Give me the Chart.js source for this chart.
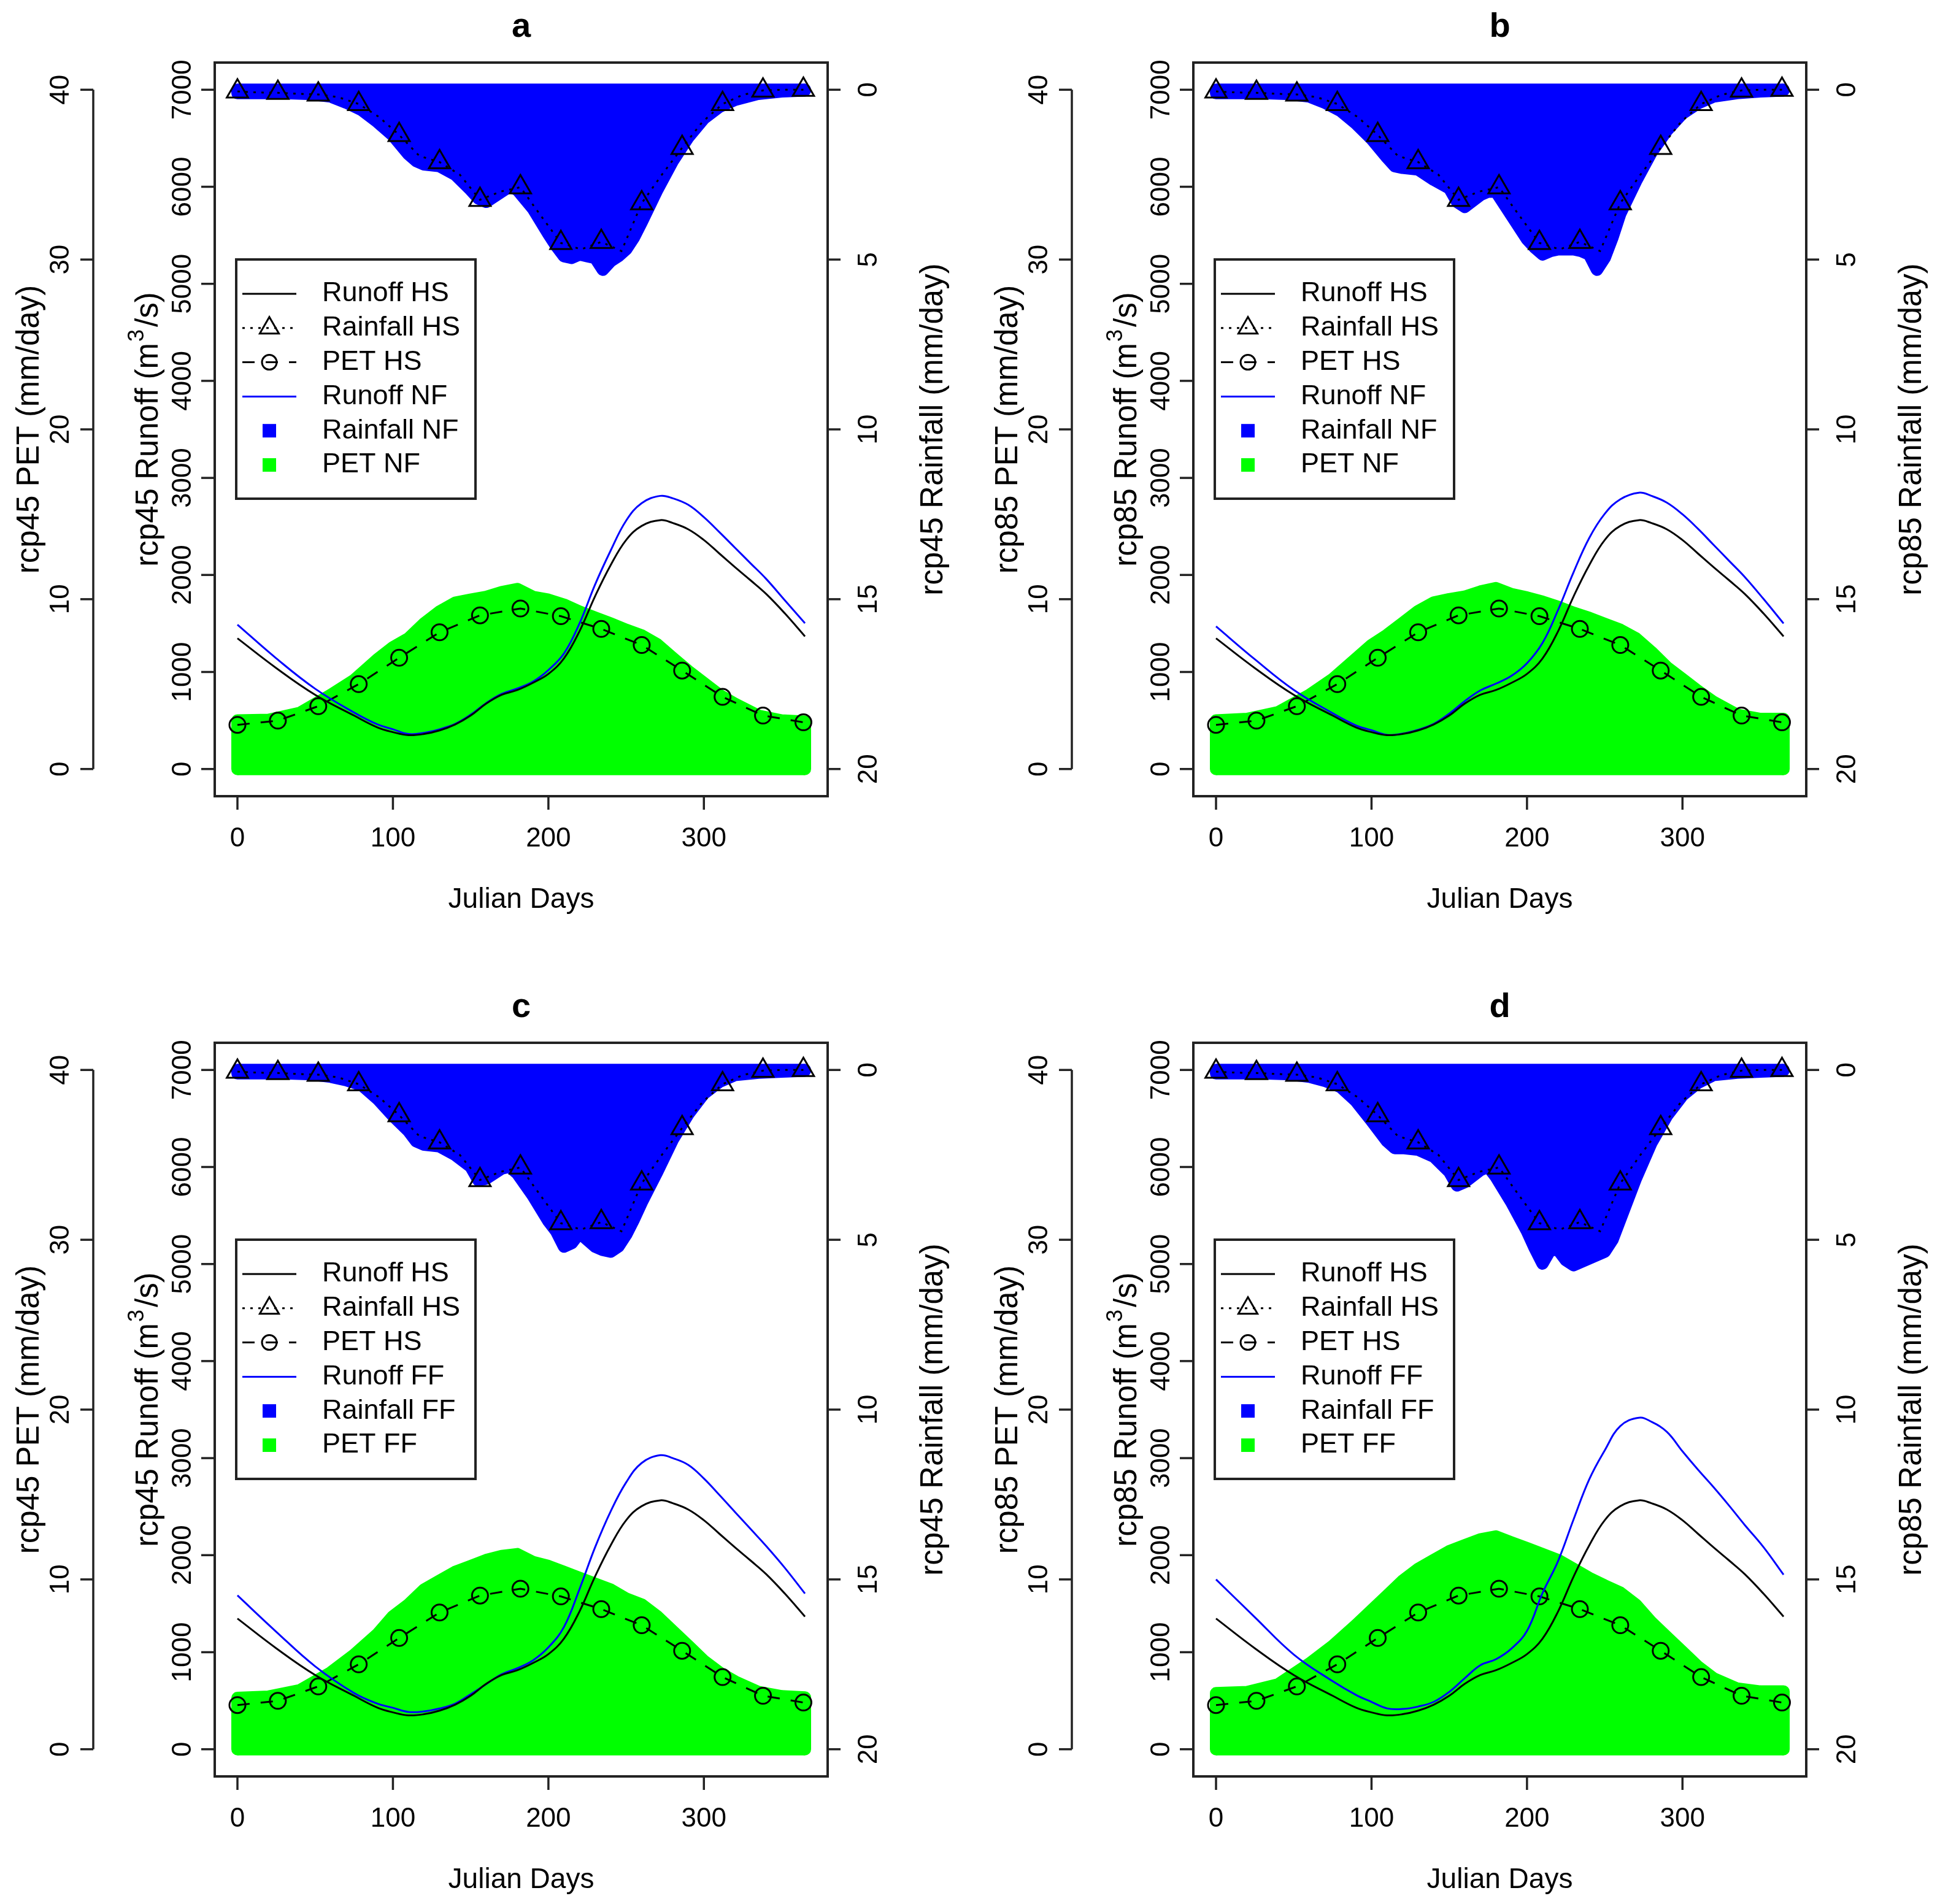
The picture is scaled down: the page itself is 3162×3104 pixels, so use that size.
<!DOCTYPE html>
<html>
<head>
<meta charset="utf-8">
<script src="https://cdn.jsdelivr.net/npm/chart.js@4"></script>
<style>
  html, body { margin:0; padding:0; background:#fff; overflow:hidden; }
  canvas.panel { position:absolute; }
</style>
</head>
<body>
<canvas id="pa" class="panel" width="1566" height="1506" style="left:0px;top:0px"></canvas>
<canvas id="pb" class="panel" width="1566" height="1506" style="left:1595px;top:0px"></canvas>
<canvas id="pc" class="panel" width="1566" height="1506" style="left:0px;top:1598px"></canvas>
<canvas id="pd" class="panel" width="1566" height="1506" style="left:1595px;top:1598px"></canvas>
<script>
// -------- data
const tick_days = [0, 100, 200, 300];
const tick_runoff = [0, 1000, 2000, 3000, 4000, 5000, 6000, 7000];
const tick_pet = [0, 10, 20, 30, 40];
const tick_rain = [0, 5, 10, 15, 20];

// runoff (m3/s)
const runoff_days = [0,25,50,75,90,100,110,120,130,140,150,160,170,180,190,200,210,220,230,240,250,260,272,280,290,300,310,320,330,340,352,365];
const runoff_hs   = [1347,1040,765,551,429,380,349,361,398,459,551,674,765,814,888,980,1140,1420,1780,2100,2360,2505,2565,2535,2470,2360,2220,2080,1945,1805,1605,1367];
const runoff_nf45 = [1488,1140,827,582,460,410,361,373,410,465,560,680,775,830,900,1020,1190,1500,1900,2250,2560,2740,2815,2790,2722,2595,2440,2280,2120,1960,1740,1502];
const runoff_nf85 = [1470,1130,815,575,450,400,352,365,405,465,570,700,810,880,960,1090,1300,1640,2030,2380,2630,2780,2848,2815,2745,2625,2475,2310,2145,1980,1755,1500];
const runoff_ff45 = [1585,1210,854,579,470,427,384,390,420,470,567,671,774,835,915,1050,1260,1650,2080,2450,2750,2950,3030,3000,2930,2790,2620,2445,2270,2095,1870,1604];
const runoff_ff85 = [1750,1360,976,701,560,488,421,415,440,488,591,732,866,927,1037,1220,1610,1940,2370,2780,3080,3330,3416,3375,3270,3070,2880,2700,2510,2312,2085,1799];

// historical rainfall (mm/day), triangles every 26 days
const rain_hs_days = [0,13,26,39,52,65,78,91,104,117,130,143,156,169,182,195,208,221,234,247,260,273,286,299,312,325,338,351,364];
const rain_hs      = [0.05,0.08,0.09,0.12,0.14,0.22,0.42,0.8,1.33,1.95,2.13,2.5,3.24,3.0,2.87,3.7,4.51,4.7,4.48,4.75,3.34,2.5,1.71,0.95,0.42,0.15,0.02,0.0,0.0];

// historical PET (mm/day), circles
const pet_hs_days = [0,26,52,78,104,130,156,182,208,234,260,286,312,338,364];
const pet_hs      = [2.6,2.85,3.7,5.0,6.55,8.05,9.05,9.45,9.0,8.25,7.3,5.8,4.25,3.15,2.75];

// future rainfall (filled blue)
const rain_fill_days = [0,15,30,45,60,70,80,90,100,110,115,120,130,140,150,155,160,170,175,180,190,200,205,210,215,220,225,230,235,240,245,250,255,260,270,280,290,300,310,320,335,350,365];
const rain_nf45 = [0.1,0.1,0.1,0.12,0.2,0.38,0.6,0.95,1.35,1.9,2.1,2.2,2.25,2.5,2.95,3.2,3.3,3.0,2.85,2.95,3.5,4.25,4.6,4.9,4.95,4.85,4.9,4.95,5.3,5.05,4.9,4.7,4.35,3.9,2.95,2.1,1.4,0.85,0.5,0.3,0.12,0.05,0.02];
const rain_nf85 = [0.1,0.1,0.1,0.12,0.2,0.38,0.62,1.0,1.45,2.0,2.25,2.3,2.35,2.65,2.9,3.3,3.45,3.1,3.0,3.0,3.7,4.4,4.65,4.85,4.75,4.7,4.7,4.7,4.75,4.85,5.3,4.95,4.35,3.65,2.7,1.85,1.2,0.7,0.4,0.2,0.1,0.05,0.02];
const rain_ff45 = [0.1,0.1,0.1,0.12,0.2,0.3,0.45,0.85,1.35,1.8,2.1,2.2,2.25,2.5,2.85,3.25,3.2,2.9,2.85,3.05,3.7,4.45,4.75,5.2,5.1,4.8,5.0,5.2,5.3,5.35,5.2,4.85,4.4,3.9,3.0,2.05,1.3,0.7,0.35,0.15,0.08,0.05,0.02];
const rain_ff85 = [0.1,0.1,0.1,0.12,0.2,0.32,0.5,0.92,1.5,2.1,2.3,2.3,2.35,2.55,3.0,3.4,3.3,2.95,2.85,3.15,3.9,4.75,5.25,5.7,5.3,5.3,5.6,5.75,5.65,5.55,5.45,5.35,5.0,4.4,3.2,2.15,1.35,0.75,0.38,0.15,0.08,0.05,0.02];

// future PET (filled green)
const pet_fill_days = [0,20,40,60,75,90,100,110,120,130,140,150,160,170,180,190,200,210,220,230,240,250,260,270,280,290,300,310,320,335,350,365];
const pet_nf45 = [2.86,2.9,3.3,4.36,5.24,6.46,7.17,7.69,8.57,9.27,9.79,9.97,10.14,10.42,10.6,10.14,9.97,9.68,9.27,8.92,8.57,8.2,7.87,7.34,6.54,5.77,5.07,4.36,3.84,3.14,2.86,2.79];
const pet_nf85 = [2.86,2.95,3.35,4.36,5.3,6.5,7.3,7.9,8.6,9.3,9.8,10.0,10.15,10.45,10.65,10.3,10.1,9.85,9.55,9.2,8.9,8.55,8.2,7.7,6.9,6.0,5.3,4.6,3.95,3.2,2.95,2.95];
const pet_ff45 = [3.02,3.1,3.47,4.52,5.56,6.78,7.83,8.52,9.4,9.92,10.44,10.79,11.14,11.38,11.49,11.03,10.79,10.44,10.09,9.75,9.4,8.87,8.52,7.83,6.96,6.09,5.21,4.52,3.99,3.37,3.12,3.05];
const pet_ff85 = [3.3,3.37,3.82,5.04,6.09,7.31,8.18,9.05,9.92,10.62,11.14,11.66,12.01,12.36,12.53,12.18,11.84,11.49,11.14,10.62,10.09,9.64,9.22,8.52,7.48,6.61,5.74,4.87,4.17,3.58,3.4,3.4];

const panels = [
  { id:'pa', title:'a', rcp:'rcp45', period:'NF', runoff:runoff_nf45, rain:rain_nf45, pet:pet_nf45 },
  { id:'pb', title:'b', rcp:'rcp85', period:'NF', runoff:runoff_nf85, rain:rain_nf85, pet:pet_nf85 },
  { id:'pc', title:'c', rcp:'rcp45', period:'FF', runoff:runoff_ff45, rain:rain_ff45, pet:pet_ff45 },
  { id:'pd', title:'d', rcp:'rcp85', period:'FF', runoff:runoff_ff85, rain:rain_ff85, pet:pet_ff85 }
];

// -------- helpers
const FONT = '"Liberation Sans", Arial, Helvetica, sans-serif';
const INK = '#222';

function pts(days, vals){
  return days.map((d, i) => ({x:d, y:vals[i]}));
}
// polygon for the filled series: drop to the base at both ends
function closed(days, vals){
  const p = pts(days, vals);
  p.unshift({x:days[0], y:0});
  p.push({x:days[days.length-1], y:0});
  return p;
}
function seg(ctx, x0, y0, x1, y1){
  ctx.beginPath(); ctx.moveTo(x0, y0); ctx.lineTo(x1, y1); ctx.stroke();
}
function vtext(ctx, txt, x, y){
  ctx.save(); ctx.translate(x, y); ctx.rotate(-Math.PI/2); ctx.fillText(txt, 0, 0); ctx.restore();
}
function marker(ctx, style, r, x, y){
  ctx.beginPath();
  if(style == 'triangle'){
    ctx.moveTo(x, y - r);
    ctx.lineTo(x + r*0.866, y + r*0.5);
    ctx.lineTo(x - r*0.866, y + r*0.5);
    ctx.closePath();
  } else {
    ctx.arc(x, y, r, 0, Math.PI*2);
  }
  ctx.stroke();
}

// R style axes, box and titles
const r_axes = {
  id: 'r_axes',
  afterDraw(chart){
    const o = chart.options.plugins.r_axes;
    const ctx = chart.ctx, ca = chart.chartArea, sc = chart.scales;
    ctx.save();
    ctx.strokeStyle = INK; ctx.fillStyle = '#000';
    ctx.lineWidth = 4;
    ctx.strokeRect(ca.left, ca.top, ca.right - ca.left, ca.bottom - ca.top);
    ctx.lineWidth = 3.5;
    ctx.font = '44px ' + FONT;
    ctx.textAlign = 'center'; ctx.textBaseline = 'middle';

    // x
    tick_days.forEach(v => {
      const x = sc.x.getPixelForValue(v);
      seg(ctx, x, ca.bottom, x, ca.bottom + 22);
      ctx.fillText(String(v), x, ca.bottom + 70);
    });
    // runoff (on the box)
    tick_runoff.forEach(v => {
      const y = sc.y_run.getPixelForValue(v);
      seg(ctx, ca.left - 22, y, ca.left, y);
      vtext(ctx, String(v), ca.left - 51, y);
    });
    // PET (outer axis)
    const px = ca.left - 198;
    seg(ctx, px, sc.y_pet.getPixelForValue(tick_pet[0]), px, sc.y_pet.getPixelForValue(tick_pet[tick_pet.length-1]));
    tick_pet.forEach(v => {
      const y = sc.y_pet.getPixelForValue(v);
      seg(ctx, px - 21, y, px, y);
      vtext(ctx, String(v), px - 52, y);
    });
    // rainfall (right, reversed)
    tick_rain.forEach(v => {
      const y = sc.y_rain.getPixelForValue(v);
      seg(ctx, ca.right, y, ca.right + 21, y);
      vtext(ctx, String(v), ca.right + 68, y);
    });

    // titles
    const cy = (ca.top + ca.bottom) / 2, cx = (ca.left + ca.right) / 2;
    ctx.font = '46px ' + FONT;
    ctx.fillText('Julian Days', cx, ca.bottom + 169);
    ctx.textBaseline = 'alphabetic';
    ctx.font = '51px ' + FONT;
    vtext(ctx, o.rcp + ' PET (mm/day)', ca.left - 287, cy);
    vtext(ctx, o.rcp + ' Rainfall (mm/day)', ca.right + 187, cy);

    // runoff title with superscript
    const fs = 51, a = o.rcp + ' Runoff (m', b = '3', c = '/s)';
    ctx.save();
    ctx.translate(ca.left - 93, cy); ctx.rotate(-Math.PI/2);
    ctx.textAlign = 'left';
    ctx.font = fs + 'px ' + FONT;
    const wa = ctx.measureText(a).width, wc = ctx.measureText(c).width;
    ctx.font = Math.round(fs*0.7) + 'px ' + FONT;
    const wb = ctx.measureText(b).width;
    let s = -(wa + wb + wc + 6) / 2;
    ctx.font = fs + 'px ' + FONT; ctx.fillText(a, s, 0); s += wa + 2;
    ctx.font = Math.round(fs*0.7) + 'px ' + FONT; ctx.fillText(b, s, -fs*0.45); s += wb + 4;
    ctx.font = fs + 'px ' + FONT; ctx.fillText(c, s, 0);
    ctx.restore();

    // panel letter
    ctx.textAlign = 'center';
    ctx.font = 'bold 56px ' + FONT;
    ctx.fillText(o.title, cx, ca.top - 42);
    ctx.restore();
  }
};

// legend box drawn like R's legend()
const r_legend = {
  id: 'r_legend',
  afterDraw(chart){
    const ctx = chart.ctx, ca = chart.chartArea;
    const items = chart.data.datasets.slice().sort((p, q) => p.legend_rank - q.legend_rank);
    ctx.save();
    ctx.strokeStyle = INK; ctx.lineWidth = 4;
    ctx.strokeRect(ca.left + 35, ca.top + 321, 390, 390);
    ctx.font = '45px ' + FONT;
    ctx.textAlign = 'left'; ctx.textBaseline = 'middle';
    items.forEach((ds, i) => {
      const y = ca.top + 377 + i * 55.8;
      const x0 = ca.left + 45, x1 = ca.left + 133, xm = (x0 + x1) / 2;
      if(ds.legend_square){
        ctx.fillStyle = ds.backgroundColor;
        ctx.fillRect(xm - 11, y - 11, 22, 22);
      } else {
        ctx.strokeStyle = ds.borderColor; ctx.lineWidth = ds.borderWidth;
        ctx.setLineDash(ds.borderDash || []);
        seg(ctx, x0, y, x1, y);
        ctx.setLineDash([]);
        if(ds.legend_marker){
          ctx.strokeStyle = '#000'; ctx.lineWidth = 3;
          marker(ctx, ds.legend_marker, ds.legend_marker == 'triangle' ? 18 : 12, xm, y);
        }
      }
      ctx.fillStyle = '#000';
      ctx.fillText(ds.label, ca.left + 175, y);
    });
    ctx.restore();
  }
};

function init_panel(p){
  const every_other = c => (c.dataIndex % 2 === 0 ? 20 : 0);
  const datasets = [
    { label:'Runoff HS', data:pts(runoff_days, runoff_hs), yAxisID:'y_run',
      borderColor:'#000', borderWidth:3, pointRadius:0, tension:0.4, fill:false, legend_rank:0 },
    { label:'Runoff ' + p.period, data:pts(runoff_days, p.runoff), yAxisID:'y_run',
      borderColor:'#0000ff', borderWidth:3, pointRadius:0, tension:0.4, fill:false, legend_rank:3 },
    { label:'Rainfall HS', data:pts(rain_hs_days, rain_hs), yAxisID:'y_rain',
      borderColor:'#000', borderWidth:3, borderDash:[4, 9], tension:0, fill:false,
      pointStyle:'triangle', pointRadius:every_other, pointBorderWidth:3,
      pointBorderColor:'#000', pointBackgroundColor:'rgba(0,0,0,0)', legend_rank:1, legend_marker:'triangle' },
    { label:'PET HS', data:pts(pet_hs_days, pet_hs), yAxisID:'y_pet',
      borderColor:'#000', borderWidth:3, borderDash:[20, 18], tension:0, fill:false,
      pointStyle:'circle', pointRadius:13, pointBorderWidth:3,
      pointBorderColor:'#000', pointBackgroundColor:'rgba(0,0,0,0)', legend_rank:2, legend_marker:'circle' },
    { label:'Rainfall ' + p.period, data:closed(rain_fill_days, p.rain), yAxisID:'y_rain',
      borderColor:'#0000ff', backgroundColor:'#0000ff', borderWidth:20, borderJoinStyle:'round', borderCapStyle:'round',
      pointRadius:0, tension:0, fill:{value:-0.18}, legend_rank:4, legend_square:true },
    { label:'PET ' + p.period, data:closed(pet_fill_days, p.pet), yAxisID:'y_pet',
      borderColor:'#00ff00', backgroundColor:'#00ff00', borderWidth:20, borderJoinStyle:'round', borderCapStyle:'round',
      pointRadius:0, tension:0, fill:{value:-0.36}, legend_rank:5, legend_square:true }
  ];
  const el = document.getElementById(p.id);
  new Chart(el, {
    type: 'line',
    data: { datasets: datasets },
    options: {
      responsive: false,
      animation: false,
      devicePixelRatio: 1,
      events: [],
      layout: { padding: { left:350, top:102, right:el.width - 1349, bottom:el.height - 1298 } },
      scales: {
        x:      { type:'linear', axis:'x', min:-14.6, max:379.6, display:false },
        y_run:  { type:'linear', axis:'y', min:-280, max:7280, display:false },
        y_pet:  { type:'linear', axis:'y', min:-1.6, max:41.6, display:false },
        y_rain: { type:'linear', axis:'y', min:-0.8, max:20.8, reverse:true, display:false }
      },
      plugins: {
        legend: { display:false },
        tooltip: { enabled:false },
        r_axes: { title:p.title, rcp:p.rcp }
      }
    },
    plugins: [r_axes, r_legend]
  });
}

panels.forEach(init_panel);
</script>
</body>
</html>
